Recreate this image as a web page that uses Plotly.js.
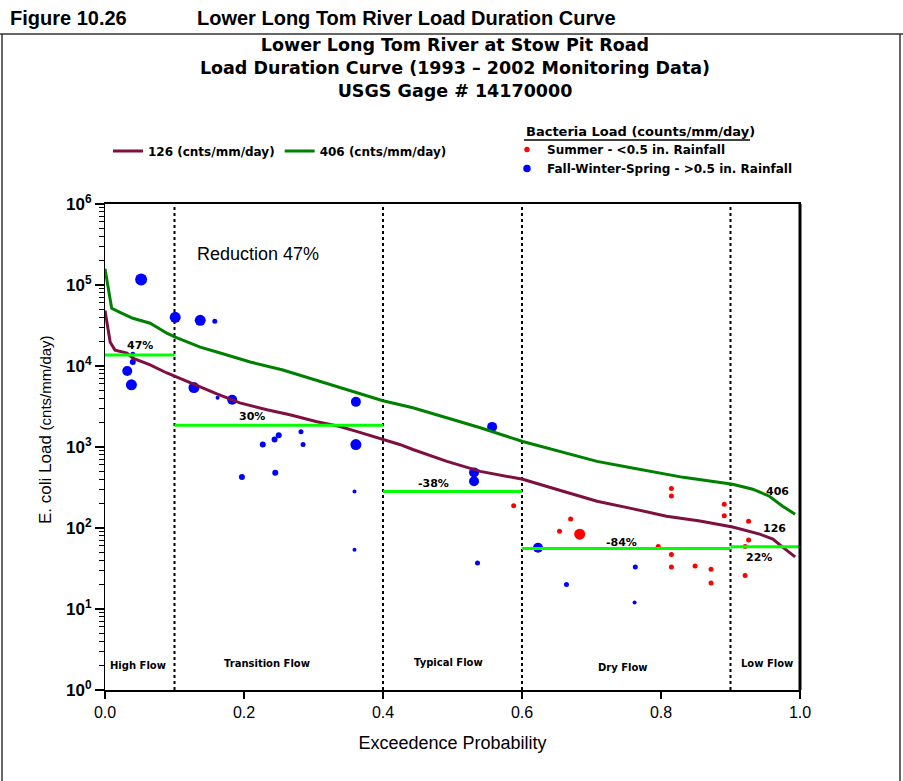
<!DOCTYPE html>
<html>
<head>
<meta charset="utf-8">
<script src="https://cdn.plot.ly/plotly-3.0.1.min.js"></script>
<style>html,body{margin:0;padding:0;background:#fff;}#chart{width:903px;height:781px;}</style>
</head>
<body>
<div id="chart"></div>
<script>
// ---------------- DATA ----------------
// Load duration curve at 126 cnts/100mL criterion
const prob126 = [0, 0.0075, 0.0144, 0.0317, 0.04, 0.065, 0.089, 0.112, 0.137, 0.161, 0.194, 0.233, 0.266, 0.305, 0.338, 0.363, 0.391, 0.424, 0.443, 0.492, 0.540, 0.601, 0.659, 0.708, 0.755, 0.808, 0.856, 0.903, 0.942, 0.961, 0.975, 0.993];
const load126 = [48600, 19700, 15700, 14450, 12500, 10300, 8200, 6730, 5520, 4530, 3510, 2880, 2500, 2050, 1790, 1550, 1310, 1075, 932, 664, 500, 399, 284, 214, 176, 140, 122, 103, 84, 73, 58, 44];
// Load duration curve at 406 cnts/100mL criterion
const prob406 = [0, 0.0096, 0.0216, 0.04, 0.065, 0.089, 0.101, 0.137, 0.161, 0.209, 0.256, 0.299, 0.35, 0.376, 0.40, 0.443, 0.492, 0.540, 0.601, 0.659, 0.708, 0.755, 0.832, 0.903, 0.932, 0.956, 0.975, 0.993];
const load406 = [159000, 51500, 46000, 38800, 33700, 25400, 22700, 17100, 14900, 11200, 8930, 6900, 5100, 4350, 3720, 3050, 2300, 1730, 1170, 857, 664, 560, 422, 347, 301, 247, 186, 148];
// Fall-Winter-Spring samples
const blueProb = [0.052, 0.101, 0.137, 0.158, 0.040, 0.040, 0.032, 0.038, 0.128, 0.162, 0.183, 0.361, 0.361, 0.282, 0.250, 0.244, 0.227, 0.285, 0.197, 0.245, 0.359, 0.359, 0.557, 0.531, 0.531, 0.536, 0.623, 0.664, 0.763, 0.762];
const blueLoad = [117000, 39900, 36600, 35700, 14000, 11200, 8690, 5850, 5420, 4050, 3830, 3610, 1070, 1540, 1400, 1240, 1070, 1070, 426, 482, 282, 54, 1770, 486, 377, 37, 57, 20, 33, 12];
// Summer samples
const redProb = [0.588, 0.670, 0.654, 0.683, 0.815, 0.815, 0.891, 0.891, 0.926, 0.926, 0.921, 0.796, 0.815, 0.815, 0.849, 0.872, 0.872, 0.921];
const redLoad = [188, 129, 91, 84, 307, 249, 197, 142, 121, 71, 26, 59, 47, 33, 34, 31, 21, 59];
// Flow zones and target loads
const zoneBounds = [0, 0.1, 0.4, 0.6, 0.9, 1.0];
const zoneNames = ['High Flow', 'Transition Flow', 'Typical Flow', 'Dry Flow', 'Low Flow'];
const targetLoad = [13650, 1850, 282, 55.7, 58.5];
const targetLabels = ['47%', '30%', '-38%', '-84%', '22%'];
const yTickVals = [1, 10, 100, 1000, 10000, 100000, 1000000];
const yTickText = ['10<sup>0</sup>', '10<sup>1</sup>', '10<sup>2</sup>', '10<sup>3</sup>', '10<sup>4</sup>', '10<sup>5</sup>', '10<sup>6</sup>'];

// ---------------- STYLE / LAYOUT ----------------
const blueSizes = [12, 11, 11, 5, 5, 6, 10, 11, 11, 4, 10, 10, 11, 5, 6, 6, 6, 5, 6, 6, 4, 4, 10, 10, 10, 5, 10, 5, 5, 4];
const redSizes = [5, 5, 5, 11, 5, 5, 5, 5, 5, 5, 5, 5, 5, 5, 5, 5, 5, 5];
const PL = 105, PR = 800, PT = 204, PB = 690;
const px = v => (v - PL) / (PR - PL);
const py = v => (PB - v) / (PB - PT);

// target segments
const tX = [], tY = [];
for (let i = 0; i < targetLoad.length; i++) {
  tX.push(zoneBounds[i], zoneBounds[i + 1], null);
  tY.push(targetLoad[i], targetLoad[i], null);
}

const traces = [
  {x: blueProb, y: blueLoad, type: 'scatter', mode: 'markers', name: 'Fall-Winter-Spring - >0.5 in. Rainfall',
   marker: {color: '#0000ff', size: blueSizes, opacity: 1, line: {width: 0}}, legend: 'legend2', legendrank: 2},
  {x: redProb, y: redLoad, type: 'scatter', mode: 'markers', name: 'Summer - <0.5 in. Rainfall',
   marker: {color: '#ff0000', size: redSizes, opacity: 1, line: {width: 0}}, legend: 'legend2', legendrank: 1},
  {x: prob126, y: load126, type: 'scatter', mode: 'lines', name: '126 (cnts/mm/day)',
   line: {color: '#7d1040', width: 3}, legend: 'legend', legendrank: 1},
  {x: prob406, y: load406, type: 'scatter', mode: 'lines', name: '406 (cnts/mm/day)',
   line: {color: '#008000', width: 3}, legend: 'legend', legendrank: 2},
  {x: tX, y: tY, type: 'scatter', mode: 'lines', name: 'Target', showlegend: false,
   line: {color: '#00ff00', width: 3}, connectgaps: false}
];

const minorVals = [];
for (let d = 0; d < 6; d++) for (let k = 2; k <= 9; k++) minorVals.push(k * Math.pow(10, d));

const shapes = [];
for (let i = 1; i < zoneBounds.length - 1; i++) {
  shapes.push({type: 'line', xref: 'x', yref: 'paper', x0: zoneBounds[i], x1: zoneBounds[i], y0: 0, y1: 1,
    line: {color: 'black', width: 2, dash: 'dot'}, layer: 'below'});
}
// thick right frame
shapes.push({type: 'line', xref: 'paper', yref: 'paper', x0: 1, x1: 1, y0: 0, y1: 1, line: {color: 'black', width: 3}});
// figure box
shapes.push({type: 'line', xref: 'paper', yref: 'paper', x0: px(0), x1: px(903), y0: py(34), y1: py(34), line: {color: '#333', width: 1.5}});
shapes.push({type: 'line', xref: 'paper', yref: 'paper', x0: px(2), x1: px(2), y0: py(34), y1: py(785), line: {color: '#333', width: 1.5}});
shapes.push({type: 'line', xref: 'paper', yref: 'paper', x0: px(900), x1: px(900), y0: py(34), y1: py(785), line: {color: '#333', width: 1.5}});

const labelFont = {family: 'DejaVu Sans', size: 11, color: 'black', weight: 'bold'};
const annotations = [
  {text: '<b>Figure 10.26</b>', xref: 'paper', yref: 'paper', x: px(8), y: py(18), xanchor: 'left', yanchor: 'middle', showarrow: false,
   font: {family: 'Liberation Sans', size: 20, color: 'black'}},
  {text: '<b>Lower Long Tom River Load Duration Curve</b>', xref: 'paper', yref: 'paper', x: px(195), y: py(18), xanchor: 'left', yanchor: 'middle', showarrow: false,
   font: {family: 'Liberation Sans', size: 20, color: 'black'}},
  {text: 'E. coli Load <span style="font-size:15px">(cnts/mm/day)</span>', xref: 'paper', yref: 'paper', x: px(45), y: py(430),
   textangle: -90, xanchor: 'center', yanchor: 'middle', showarrow: false, font: {family: 'Liberation Sans', size: 17, color: 'black'}},
  {text: 'Reduction 47%', xref: 'x', yref: 'y', x: 0.220, y: Math.log10(244000), xanchor: 'center', yanchor: 'middle', showarrow: false,
   font: {family: 'Liberation Sans', size: 18, color: 'black'}},
  {text: '<b>Bacteria Load (counts/mm/day)</b>', xref: 'paper', yref: 'paper', x: px(524), y: py(131), xanchor: 'left', yanchor: 'middle', showarrow: false,
   font: {family: 'DejaVu Sans', size: 13, color: 'black'}},
  {text: '406', xref: 'x', yref: 'y', x: 0.967, y: Math.log10(284), xanchor: 'center', yanchor: 'middle', showarrow: false, font: labelFont},
  {text: '126', xref: 'x', yref: 'y', x: 0.964, y: Math.log10(100), xanchor: 'center', yanchor: 'middle', showarrow: false, font: labelFont}
];
// underline for Bacteria Load title
shapes.push({type: 'line', xref: 'paper', yref: 'paper', x0: px(524), x1: px(750), y0: py(140), y1: py(140), line: {color: 'black', width: 1.5}});

const tLabX = [0.05, 0.211, 0.472, 0.743, 0.941];
const tLabY = [18100, 2350, 357, 67, 42.9];
for (let i = 0; i < targetLabels.length; i++) {
  annotations.push({text: targetLabels[i], xref: 'x', yref: 'y', x: tLabX[i], y: Math.log10(tLabY[i]), xanchor: 'center', yanchor: 'middle', showarrow: false, font: labelFont});
}
const zLabX = [0.047, 0.233, 0.494, 0.745, 0.952];
const zLabPy = [665, 663, 662, 667, 663];
for (let i = 0; i < zoneNames.length; i++) {
  annotations.push({text: zoneNames[i], xref: 'x', yref: 'paper', x: zLabX[i], y: py(zLabPy[i]), xanchor: 'center', yanchor: 'middle', showarrow: false,
    font: {family: 'DejaVu Sans', size: 10, color: 'black', weight: 'bold'}});
}

const layout = {
  width: 903, height: 781,
  margin: {l: PL, r: 903 - PR, t: PT, b: 781 - PB},
  paper_bgcolor: 'white', plot_bgcolor: 'white',
  title: {text: 'Lower Long Tom River at Stow Pit Road<br>Load Duration Curve (1993 – 2002 Monitoring Data)<br>USGS Gage # 14170000',
    font: {family: 'DejaVu Sans', size: 17.5, color: 'black', weight: 'bold'},
    xref: 'paper', x: px(455), xanchor: 'center', yref: 'container', y: 1 - 51 / 781, yanchor: 'top'},
  showlegend: true,
  legend: {x: px(108), y: py(151), xanchor: 'left', yanchor: 'middle', orientation: 'h', bgcolor: 'rgba(0,0,0,0)', borderwidth: 0,
    font: {family: 'DejaVu Sans', size: 12, color: 'black', weight: 'bold'}, traceorder: 'normal'},
  legend2: {x: px(507), y: py(135), xanchor: 'left', yanchor: 'top', orientation: 'v', bgcolor: 'rgba(0,0,0,0)', borderwidth: 0,
    font: {family: 'DejaVu Sans', size: 12, color: 'black', weight: 'bold'}, traceorder: 'normal'},
  xaxis: {range: [0, 1], tick0: 0, dtick: 0.2, tickformat: '.1f', ticks: 'outside', ticklen: 7, tickwidth: 2, tickcolor: 'black',
    showline: true, linewidth: 2, linecolor: 'black', mirror: true, showgrid: false, zeroline: false,
    tickfont: {family: 'Liberation Sans', size: 16, color: 'black'},
    title: {text: 'Exceedence Probability', font: {family: 'Liberation Sans', size: 18, color: 'black'}, standoff: 16}},
  yaxis: {type: 'log', range: [0, 6], tickmode: 'array', tickvals: yTickVals, ticktext: yTickText, ticks: 'outside', ticklen: 9, tickwidth: 1.5, tickcolor: 'black',
    showline: true, linewidth: 1, linecolor: 'black', mirror: true, showgrid: false, zeroline: false,
    tickfont: {family: 'Liberation Sans', size: 17, color: 'black', weight: 'bold'},
    minor: {tickmode: 'array', tickvals: minorVals, ticks: 'outside', ticklen: 5, tickwidth: 1, tickcolor: 'black', showgrid: false}},
  shapes: shapes,
  annotations: annotations
};

Plotly.newPlot('chart', traces, layout, {displayModeBar: false, staticPlot: true});
</script>
</body>
</html>
